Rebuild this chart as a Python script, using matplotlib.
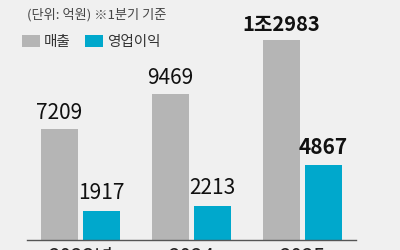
import matplotlib
matplotlib.use("Agg")
import matplotlib.pyplot as plt
import numpy as np

years = ["2023년", "2024", "2025"]
sales = [7209, 9469, 12983]
profit = [1917, 2213, 4867]
sales_labels = ["7209", "9469", "1조2983"]
profit_labels = ["1917", "2213", "4867"]

fonts = ["Liberation Sans Narrow", "Noto Sans CJK KR", "DejaVu Sans"]
kfonts = ["Noto Sans CJK KR", "DejaVu Sans"]
bg = "#f0f0f0"
gray = "#b5b5b5"
blue = "#00a8cc"

fig = plt.figure(figsize=(4, 2.5), dpi=100, facecolor=bg)
ax = fig.add_axes([27/400, 10/250, 329/400, 240/250], facecolor=bg)

x = np.arange(len(years))
w = 0.333
off = 0.189
b1 = ax.bar(x - off, sales, w, color=gray, label="매출")
b2 = ax.bar(x + off, profit, w, color=blue, label="영업이익")

for i in range(len(years)):
    bold = "bold" if i == 2 else "normal"
    ax.annotate(sales_labels[i], (x[i] - off, sales[i]), xytext=(0, 4),
                textcoords="offset points", ha="center", va="bottom",
                fontsize=14.5 if i == 2 else 15, family=fonts,
                fontweight=bold, color="#111111")
    ax.annotate(profit_labels[i], (x[i] + off, profit[i]), xytext=(0, 5),
                textcoords="offset points", ha="center", va="bottom",
                fontsize=15, family=fonts, fontweight=bold, color="#111111")

ax.set_xlim(-0.482, 2.482)
ax.set_ylim(0, 15600)
ax.set_xticks(x)
ax.set_xticklabels(years, family=fonts, fontsize=15, color="#222222")
ax.tick_params(axis="x", length=0, pad=5)
ax.set_yticks([])
for s in ["top", "right", "left"]:
    ax.spines[s].set_visible(False)
ax.spines["bottom"].set_color("#555555")
ax.spines["bottom"].set_linewidth(1)

fig.text(27/400, 1 - 15/250, "(단위: 억원) ※1분기 기준", family=kfonts,
         fontsize=9.5, color="#444444", va="center", ha="left")

leg = fig.legend(handles=[b1, b2], loc="center left",
                 bbox_to_anchor=(22/400, 1 - 42/250), ncol=2, frameon=False,
                 prop={"family": kfonts, "size": 10.5}, handlelength=1.2,
                 handleheight=0.8, handletextpad=0.3, columnspacing=1.0,
                 borderaxespad=0, borderpad=0)
for t in leg.get_texts():
    t.set_color("#333333")

fig.savefig("out.png", dpi=100, facecolor=bg)
